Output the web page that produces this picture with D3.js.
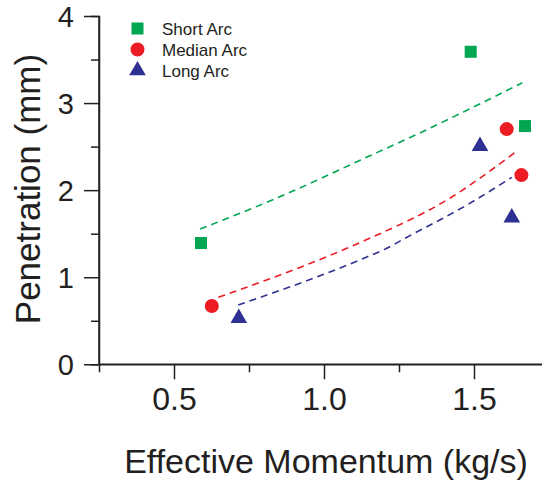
<!DOCTYPE html>
<html><head><meta charset="utf-8">
<script src="https://cdn.jsdelivr.net/npm/d3@7"></script>
<style>body{margin:0;background:#fff}svg{display:block}text{font-family:"Liberation Sans",Arial,sans-serif;fill:#231f20}</style>
</head><body><svg id="c" width="542" height="487"></svg>
<script>
const seriesNames = ["Short Arc", "Median Arc", "Long Arc"];
const colors = ["#00a651", "#ed1c24", "#2e3192"];
const shortX = [0.59, 1.489, 1.67];
const shortY = [1.393, 3.589, 2.736];
const medianX = [0.626, 1.609, 1.658];
const medianY = [0.669, 2.701, 2.173];
const longX = [0.716, 1.52, 1.626];
const longY = [0.53, 2.505, 1.685];
const shortFitX = [0.587, 0.853, 1.153, 1.297, 1.661];
const shortFitY = [1.553, 1.924, 2.395, 2.621, 3.233];
const medianFitX = [0.648, 1.076, 1.139, 1.409, 1.640];
const medianFitY = [0.769, 1.332, 1.427, 1.886, 2.441];
const longFitX = [0.714, 1.137, 1.209, 1.27, 1.476, 1.626];
const longFitY = [0.681, 1.224, 1.332, 1.447, 1.829, 2.147];
const xMajorTicks = [0.5, 1.0, 1.5];
const xMinorTicks = [0.75, 1.25];
const yMajorTicks = [0, 1, 2, 3, 4];
const yMinorTicks = [0.5, 1.5, 2.5, 3.5];
const xTitle = "Effective Momentum (kg/s)";
const yTitle = "Penetration (mm)";

const svg = d3.select("#c");
const x = d3.scaleLinear().domain([0.25, 1.75]).range([99, 549]);
const y = d3.scaleLinear().domain([0, 4]).range([364.3, 16]);
const ink = "#231f20";

// axes
const gx = svg.append("g").attr("transform", `translate(0,${y(0)})`);
gx.call(d3.axisBottom(x).tickValues(xMajorTicks).tickSize(15).tickPadding(8).tickFormat(d3.format(".1f")));
gx.append("g").call(d3.axisBottom(x).tickValues(xMinorTicks).tickSize(8).tickFormat(""));
const gy = svg.append("g").attr("transform", `translate(${x(0.25)},0)`);
gy.call(d3.axisLeft(y).tickValues(yMajorTicks).tickSize(15).tickPadding(10).tickFormat(d3.format("d")));
gy.append("g").call(d3.axisLeft(y).tickValues(yMinorTicks).tickSize(8).tickFormat(""));
svg.selectAll(".domain").attr("stroke", ink).attr("stroke-width", 1.5);
svg.selectAll(".tick line").attr("stroke", ink).attr("stroke-width", 1.5);
svg.selectAll(".tick text").style("font-family", "Liberation Sans, Arial, sans-serif").attr("fill", ink);
gx.selectAll(".tick text").attr("font-size", 32);
gy.selectAll(".tick text").attr("font-size", 29).attr("dy", "0.36em");
gx.select(".domain").attr("d", `M${x(0.25)},0H${x(1.75)}`);
gy.select(".domain").attr("d", `M0,${y(4)}V${y(0)}`);

// titles
svg.append("text").attr("x", 326).attr("y", 473).attr("text-anchor", "middle").attr("font-size", 34).text(xTitle);
svg.append("text").attr("transform", "translate(40,189) rotate(-90)").attr("text-anchor", "middle").attr("font-size", 35).text(yTitle);

// fit curves
const line = d3.line().x(d => x(d[0])).y(d => y(d[1])).curve(d3.curveMonotoneX);
const fits = [[shortFitX, shortFitY], [medianFitX, medianFitY], [longFitX, longFitY]];
fits.forEach((f, i) => {
  svg.append("path").datum(f[0].map((v, j) => [v, f[1][j]]))
    .attr("d", line).attr("fill", "none").attr("stroke", colors[i])
    .attr("stroke-width", 1.6).attr("stroke-dasharray", "7,5");
});

// markers
const symbols = [d3.symbolSquare, d3.symbolCircle, d3.symbolTriangle];
const sizes = [144, 154, 120];
const pts = [[shortX, shortY], [medianX, medianY], [longX, longY]];
pts.forEach((p, i) => {
  svg.append("g").selectAll("path").data(p[0].map((v, j) => [v, p[1][j]])).join("path")
    .attr("transform", d => `translate(${x(d[0])},${y(d[1])})`)
    .attr("d", d3.symbol().type(symbols[i]).size(sizes[i])).attr("fill", colors[i]);
});

// legend
const lg = svg.append("g");
seriesNames.forEach((n, i) => {
  const cy = 28.5 + i * 21;
  lg.append("path").attr("transform", `translate(137.5,${cy})`)
    .attr("d", d3.symbol().type(symbols[i]).size(sizes[i])).attr("fill", colors[i]);
  lg.append("text").attr("x", 162).attr("y", cy + 6).attr("font-size", 17).text(n);
});
</script></body></html>
